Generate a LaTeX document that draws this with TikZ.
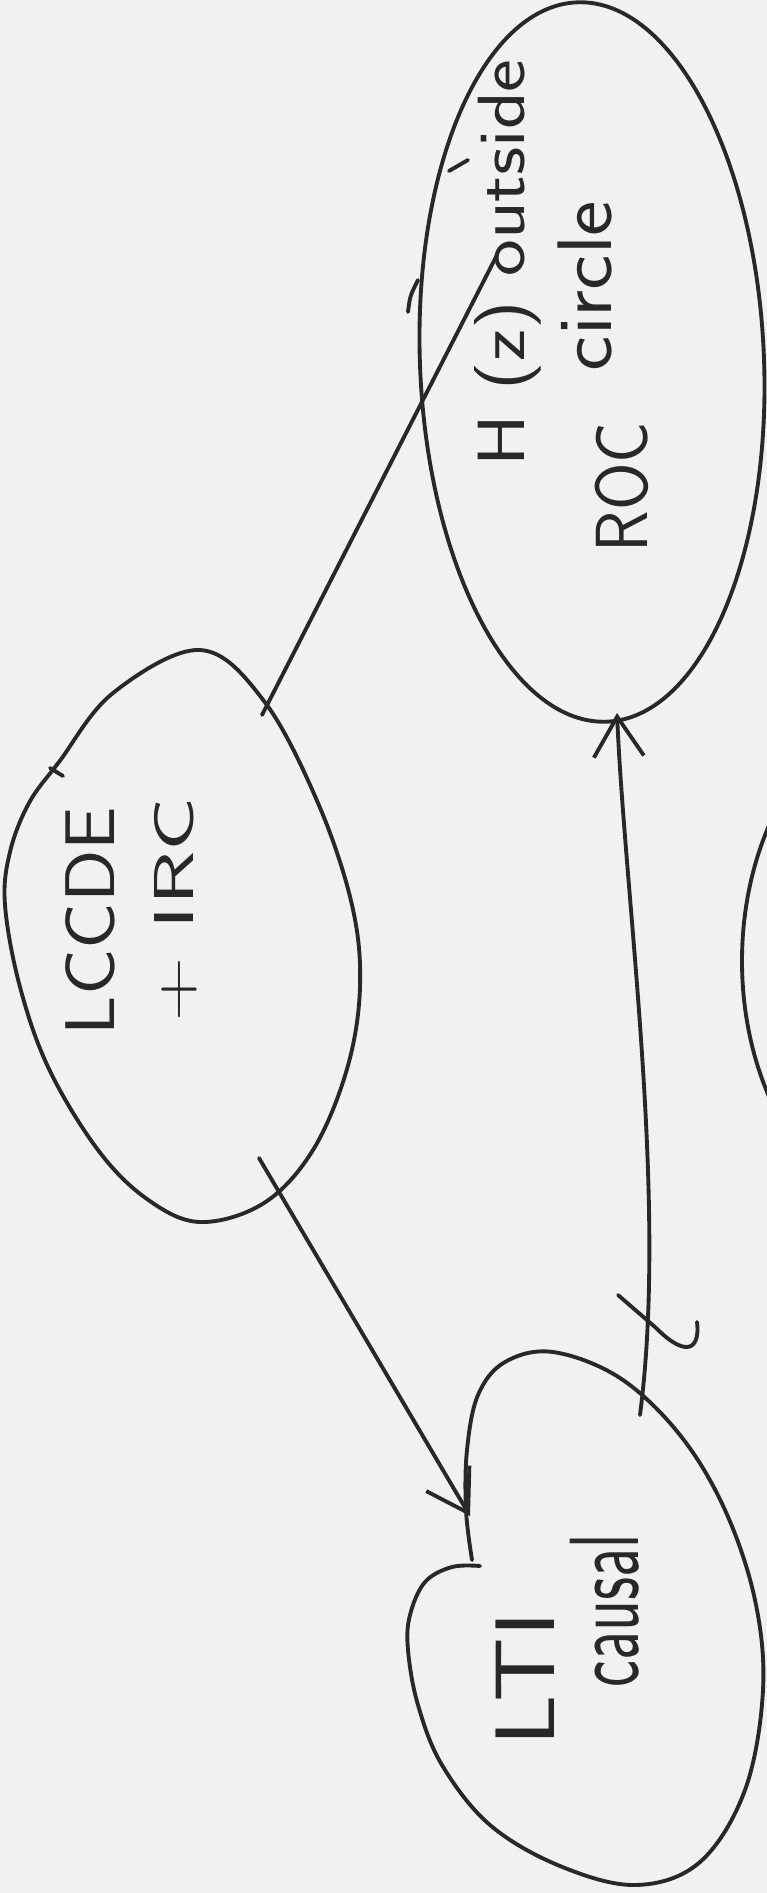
\documentclass[tikz,border=0pt]{standalone}
\usepackage{fontspec}
\usetikzlibrary{arrows.meta}
\definecolor{paper}{RGB}{241,241,241}
\definecolor{ink}{RGB}{40,40,40}
\newcommand{\handfont}[1]{\fontsize{#1}{#1}\selectfont\sffamily}

\begin{document}
\begin{tikzpicture}[x=0.01cm, y=-0.01cm,
    hand/.style={draw=ink, line width=1.1pt, line cap=round, line join=round},
    word/.style={rotate=90, text=ink, inner sep=0pt},
    tip/.style={-{Straight Barb[length=4mm, width=5mm]}}]
    % Sheet
    \fill[paper] (0,0) rectangle (767,1893);
    \useasboundingbox (0,0) rectangle (767,1893);

    % LCCDE + IRC (left)
    \draw[hand] plot[smooth cycle, tension=0.6] coordinates {(200,650) (113,693) (59,762) (29,803) (10,852) (5,905) (20,987) (49,1069) (98,1150) (147,1199) (200,1222) (264,1203) (313,1150) (347,1069) (360,987) (352,905) (318,803) (264,701)};
    \draw[hand] (50,768) -- (63,776);
    \node[word, font=\handfont{20}] (lccde) at (90,921) {\scalebox{1.1}[1]{LCCDE}};
    \node[word, font=\handfont{16}] (irc) at (176,910) {\scalebox{1.6}[1]{+ IRC}};

    % H(z) outside circle, ROC (top right)
    \draw[hand, rotate around={2.4:(592,362)}] (592,362) ellipse (172 and 360);
    \draw[hand] (408,312) .. controls (410,296) .. (418,280);
    \draw[hand] (449,171) -- (468,160);
    \node[word, font=\handfont{19}] (hz) at (508,263) {\scalebox{1.17}[1]{H (z) outside}};
    \node[word, font=\handfont{22}] (circ) at (585,286) {\scalebox{1.09}[1]{circle}};
    \node[word, font=\handfont{21}] (roc) at (622,487) {\scalebox{0.93}[1]{ROC}};

    % LTI causal (bottom)
    \draw[hand] plot[smooth, tension=0.6] coordinates {(480,1566) (452,1567) (425,1582) (410,1615) (408,1650) (418,1705) (442,1765) (490,1825) (560,1866) (636,1885) (700,1862) (745,1790) (763,1690) (755,1600) (725,1510) (680,1435) (620,1378) (553,1352) (505,1362) (478,1395) (467,1450) (466,1510) (472,1560)};
    \node[word, font=\handfont{24}] (lti) at (525,1679) {\scalebox{1.2}[1]{LTI}};
    \node[word, font=\handfont{28}] (causal) at (605,1611) {\scalebox{0.65}[1]{causal}};

    % Edge of the next bubble (right)
    \begin{scope}
        \clip (0,0) rectangle (767,1893);
        \draw[hand] (942,961) ellipse (200 and 270);
    \end{scope}

    % Connectors
    \coordinate (lccdeN) at (262,715);
    \coordinate (hzEnd) at (497,255);
    \coordinate (lccdeS) at (259,1158);
    \coordinate (ltiIn) at (470,1516);
    \coordinate (ltiTop) at (640,1415);
    \coordinate (rocBot) at (617,713);
    \draw[hand] (lccdeN) -- (hzEnd);
    \draw[hand, tip] (lccdeS) -- (ltiIn);
    \draw[hand, tip] (ltiTop) .. controls (668,1200) and (625,900) .. (rocBot);
    \draw[hand] (618,1295) -- (655,1327) .. controls (690,1362) and (700,1345) .. (697,1322);
\end{tikzpicture}
\end{document}
